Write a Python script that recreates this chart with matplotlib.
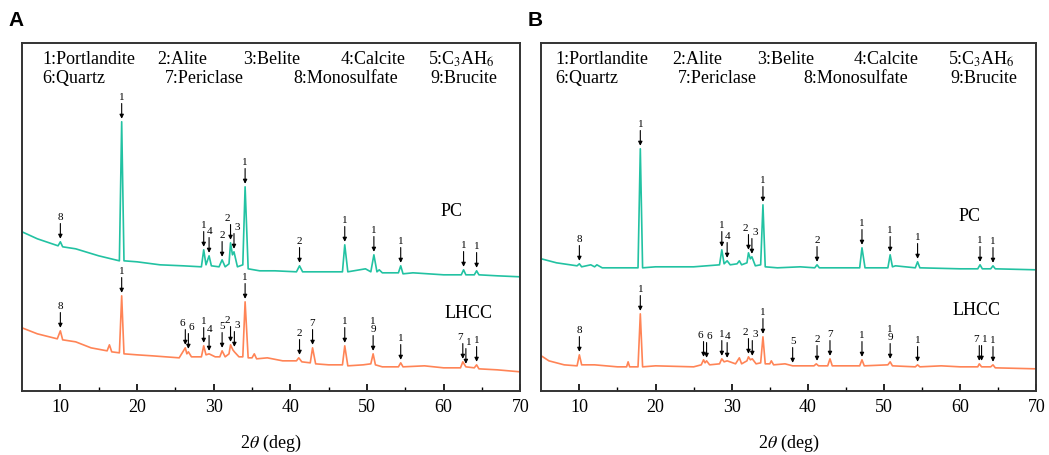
import numpy as np
import matplotlib.pyplot as plt

plt.rcParams['font.family'] = ['Liberation Serif', 'DejaVu Serif']
plt.rcParams['mathtext.fontset'] = 'stix'

# ---- data (2theta in deg, intensity in a.u.) ----
# panel A, PC
a_pc_x = [5.0, 7.0, 9.7, 10.0, 10.3, 12.0, 15.0, 17.7, 18.0, 18.3, 20.0, 23.0, 26.0,
          28.4, 28.7, 29.0, 29.4, 29.7, 30.7, 31.1, 31.5, 32.0, 32.2, 32.45, 32.65, 33.1,
          33.8, 34.1, 34.5, 36.0, 38.0, 40.8, 41.2, 41.6, 44.0, 46.8, 47.1, 47.5, 49.8,
          50.5, 50.9, 51.3, 51.6, 52.0, 54.1, 54.4, 54.7, 56.0, 60.0, 62.3, 62.6, 62.9,
          64.0, 64.3, 64.6, 67.0, 70.0]
a_pc_y = [159, 152, 145, 149, 144, 142, 135, 130, 269, 130, 129, 126, 125,
          124, 141, 126, 135, 125, 124, 131, 124, 127, 148, 136, 139, 124,
          126, 204, 122, 120, 120, 119, 125, 119, 119, 119, 146, 119, 122,
          119, 136, 119, 121, 118, 118, 125, 117, 118, 116, 116, 121, 116,
          116, 120, 116, 115, 114]
a_pc_marks = [(10.0, '8'), (18.0, '1'), (28.7, '1'), (29.4, '4'), (31.1, '2'),
              (32.2, '2'), (32.65, '3'), (34.1, '1'), (41.2, '2'), (47.1, '1'),
              (50.9, '1'), (54.4, '1'), (62.6, '1'), (64.3, '1')]

# panel A, LHCC
a_lh_x = [5.0, 7.0, 9.6, 10.0, 10.3, 12.0, 14.0, 16.1, 16.4, 16.7, 17.7, 18.0, 18.3,
          20.0, 22.0, 25.5, 26.3, 26.5, 26.7, 27.1, 28.4, 28.7, 29.0, 29.4, 30.2, 30.8,
          31.1, 31.5, 32.0, 32.2, 32.5, 32.7, 33.3, 33.8, 34.1, 34.5, 35.0, 35.3, 35.6,
          37.0, 39.0, 40.8, 41.1, 41.5, 42.6, 42.9, 43.3, 45.0, 46.8, 47.1, 47.5, 49.5,
          50.5, 50.8, 51.1, 52.0, 54.1, 54.4, 54.7, 57.5, 60.0, 62.2, 62.5, 62.9, 64.0,
          64.3, 64.6, 67.0, 70.0]
a_lh_y = [63, 57, 52, 60, 51, 49, 43, 40, 46, 39, 38, 95, 37,
          36, 35, 33, 43, 37, 39, 34, 34, 45, 36, 37, 34, 34,
          40, 34, 37, 46, 41, 39, 34, 34, 89, 33, 33, 37, 32,
          33, 30, 30, 33, 29, 28, 43, 27, 26, 26, 45, 25, 26,
          27, 37, 26, 24, 24, 28, 24, 25, 23, 23, 29, 24, 23,
          26, 22, 21, 19]
a_lh_marks = [(10.0, '8'), (18.0, '1'), (26.3, '6'), (26.7, '6'), (28.7, '1'),
              (29.4, '4'), (31.1, '5'), (32.2, '2'), (32.7, '3'), (34.1, '1'),
              (41.2, '2'), (42.9, '7'), (47.1, '1'), (50.8, '1\n9'), (54.4, '1'),
              (62.5, '7'), (62.9, '1'), (64.3, '1')]

# panel B, PC
b_pc_x = [5.0, 7.0, 9.7, 10.0, 10.3, 11.5, 12.0, 12.3, 13.0, 17.7, 18.0, 18.3, 20.0,
          25.0, 28.4, 28.7, 29.0, 29.4, 29.8, 30.7, 31.0, 31.3, 32.0, 32.2, 32.45, 32.65,
          33.1, 33.8, 34.1, 34.4, 36.0, 39.0, 40.9, 41.2, 41.5, 44.0, 46.8, 47.1, 47.5,
          50.5, 50.8, 51.1, 51.5, 54.1, 54.4, 54.7, 60.0, 62.3, 62.6, 62.9, 64.0, 64.3,
          64.6, 70.0]
b_pc_y = [132, 128, 125, 127, 124, 126, 124, 126, 123, 123, 242, 123, 124,
          124, 126, 141, 127, 130, 126, 127, 130, 126, 128, 138, 132, 134,
          125, 126, 186, 124, 123, 124, 123, 126, 123, 123, 123, 143, 123,
          123, 136, 124, 125, 123, 129, 123, 122, 122, 126, 122, 122, 125,
          122, 121]
b_pc_marks = [(10.0, '8'), (18.0, '1'), (28.7, '1'), (29.4, '4'), (32.2, '2'),
              (32.65, '3'), (34.1, '1'), (41.2, '2'), (47.1, '1'), (50.8, '1'),
              (54.4, '1'), (62.6, '1'), (64.3, '1')]

# panel B, LHCC
b_lh_x = [5.0, 6.0, 8.0, 9.7, 10.0, 10.3, 12.0, 15.0, 16.2, 16.4, 16.6, 17.7, 18.0,
          18.3, 20.0, 25.0, 26.0, 26.3, 26.5, 26.7, 27.1, 28.4, 28.7, 29.0, 29.4, 30.5,
          31.0, 31.3, 32.0, 32.2, 32.45, 32.7, 33.2, 33.8, 34.1, 34.4, 35.0, 35.2, 35.5,
          37.0, 38.0, 40.8, 41.1, 41.4, 42.6, 42.9, 43.2, 45.0, 46.8, 47.1, 47.4, 50.5,
          50.8, 51.1, 54.1, 54.4, 54.7, 57.5, 60.0, 62.3, 62.5, 62.8, 64.0, 64.3, 64.6,
          70.0]
b_lh_y = [35, 30, 26, 25, 36, 26, 26, 24, 24, 29, 24, 24, 77,
          24, 25, 24, 26, 31, 28, 30, 26, 27, 32, 29, 30, 27,
          33, 27, 30, 34, 31, 32, 27, 28, 54, 27, 27, 30, 26,
          27, 25, 25, 27, 25, 25, 32, 25, 25, 25, 31, 25, 26,
          29, 25, 24, 26, 24, 25, 24, 24, 27, 24, 24, 26, 23,
          22]
b_lh_marks = [(10.0, '8'), (18.0, '1'), (26.3, '6'), (26.7, '6'), (28.7, '1'),
              (29.4, '4'), (32.2, '2'), (32.7, '3'), (34.1, '1'), (38.0, '5'),
              (41.2, '2'), (42.9, '7'), (47.1, '1'), (50.8, '1\n9'), (54.4, '1'),
              (62.5, '7'), (62.8, '1'), (64.3, '1')]

phases_row1 = ['1:Portlandite', '2:Alite', '3:Belite', '4:Calcite', '5:C$_3$AH$_6$']
phases_row2 = ['6:Quartz', '7:Periclase', '8:Monosulfate', '9:Brucite']

pc_color = '#22c2a2'
lh_color = '#ff8456'


def mark_peaks(ax, xs, ys, marks):
    xs = np.asarray(xs)
    ys = np.asarray(ys)
    pos = [m[0] for m in marks]
    for x, lab in marks:
        top = ys[np.abs(xs - x) <= 0.3].max()
        tip = (x, top + 3)
        # push close label pairs apart a little so the digits don't collide
        dx = 0
        if any(0 < p - x < 0.6 for p in pos):
            dx = -2.2
        elif any(0 < x - p < 0.6 for p in pos):
            dx = 2.2
        ax.annotate('', xy=tip, xytext=(0, 11), textcoords='offset points',
                    arrowprops=dict(arrowstyle='-|>', color='black', lw=0.8,
                                    mutation_scale=6, shrinkA=0, shrinkB=0))
        ax.annotate(lab, xy=tip, xytext=(dx, 12), textcoords='offset points',
                    ha='center', va='bottom', fontsize=8, linespacing=0.9)


def draw_panel(ax, pc, lh, letter, header_x1, header_x2, pc_lab, lh_lab):
    ax.plot(pc[0], pc[1], color=pc_color, lw=1.2)
    ax.plot(lh[0], lh[1], color=lh_color, lw=1.2)
    mark_peaks(ax, pc[0], pc[1], pc[2])
    mark_peaks(ax, lh[0], lh[1], lh[2])
    ax.text(pc_lab[0], pc_lab[1], 'PC', fontsize=13, ha='center', va='center')
    ax.text(lh_lab[0], lh_lab[1], 'LHCC', fontsize=13, ha='center', va='center')
    for t, xf in zip(phases_row1, header_x1):
        ax.text(xf, 0.953, t, transform=ax.transAxes, fontsize=13, va='center')
    for t, xf in zip(phases_row2, header_x2):
        ax.text(xf, 0.897, t, transform=ax.transAxes, fontsize=13, va='center')
    ax.set_xlim(5, 70)
    ax.set_ylim(0, 348)
    ax.set_xticks(np.arange(10, 71, 10))
    ax.set_xticks(np.arange(15, 70, 10), minor=True)
    ax.set_yticks([])
    ax.tick_params(axis='x', which='both', direction='in', labelsize=13, pad=6)
    ax.tick_params(axis='x', which='major', length=5, width=1.2)
    ax.tick_params(axis='x', which='minor', length=3, width=1.0)
    for s in ax.spines.values():
        s.set_linewidth(1.4)
        s.set_color('#333333')
    ax.set_xlabel('2$\\theta$ (deg)', fontsize=13, labelpad=12)
    ax.text(-0.027, 1.065, letter, transform=ax.transAxes, fontsize=15,
            fontweight='bold', family='Liberation Sans', va='center', ha='left')


fig = plt.figure(figsize=(10.49, 4.55), dpi=100)
ax_a = fig.add_axes([0.021, 0.141, 0.475, 0.765])
ax_b = fig.add_axes([0.516, 0.141, 0.472, 0.765])

draw_panel(ax_a, (a_pc_x, a_pc_y, a_pc_marks), (a_lh_x, a_lh_y, a_lh_marks), 'A',
           [0.040, 0.271, 0.444, 0.639, 0.815], [0.040, 0.287, 0.544, 0.819],
           (61.0, 179), (63.2, 77))
draw_panel(ax_b, (b_pc_x, b_pc_y, b_pc_marks), (b_lh_x, b_lh_y, b_lh_marks), 'B',
           [0.028, 0.265, 0.436, 0.630, 0.822], [0.028, 0.275, 0.529, 0.826],
           (61.2, 174), (62.2, 80))

fig.savefig('out.png', dpi=100)
